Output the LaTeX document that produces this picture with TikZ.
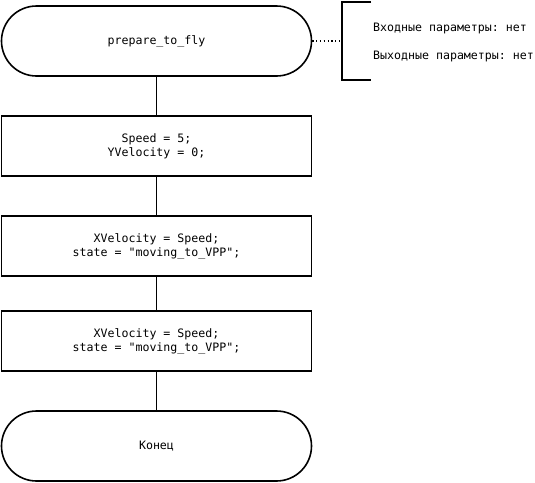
\documentclass[tikz,border=0pt]{standalone}
\usepackage{fontspec}
\setmonofont{DejaVu Sans Mono}
\begin{document}
\begin{tikzpicture}[x=1pt,y=-1pt,
  every node/.style={font=\ttfamily\fontsize{11.6}{14}\selectfont, align=center},
  terminal/.style={draw, line width=1.6pt, rounded corners=35pt, minimum width=310pt, minimum height=70pt, inner sep=0pt},
  process/.style={draw, line width=1.6pt, minimum width=310pt, minimum height=60pt, inner sep=0pt},
  link/.style={line width=1.6pt},
  note/.style={anchor=west, inner sep=0pt}]
  \useasboundingbox (0,0) rectangle (535,482);

  \node[terminal] (start) at (156.5,41) {prepare\_to\_fly};
  \node[process] (s1) at (156.5,146) {Speed = 5;\\YVelocity = 0;};
  \node[process] (s2) at (156.5,246) {XVelocity = Speed;\\state = "moving\_to\_VPP";};
  \node[process] (s3) at (156.5,341) {XVelocity = Speed;\\state = "moving\_to\_VPP";};
  \node[terminal] (end) at (156.5,446) {Конец};

  \draw[link] (start) -- (s1);
  \draw[link] (s1) -- (s2);
  \draw[link] (s2) -- (s3);
  \draw[link] (s3) -- (end);

  % comment bracket with parameters
  \coordinate (bt) at (371,2);
  \coordinate (bb) at (371,80);
  \coordinate (bm) at (342,41);
  \draw[link] (bt) -- (342,2) -- (342,80) -- (bb);
  \draw[line width=1.3pt, dash pattern=on 1.3pt off 2.5pt] (start.east) -- (bm);
  \node[note] (pin) at (373,28) {Входные параметры: нет};
  \node[note] (pout) at (373,56) {Выходные параметры: нет};
\end{tikzpicture}
\end{document}
